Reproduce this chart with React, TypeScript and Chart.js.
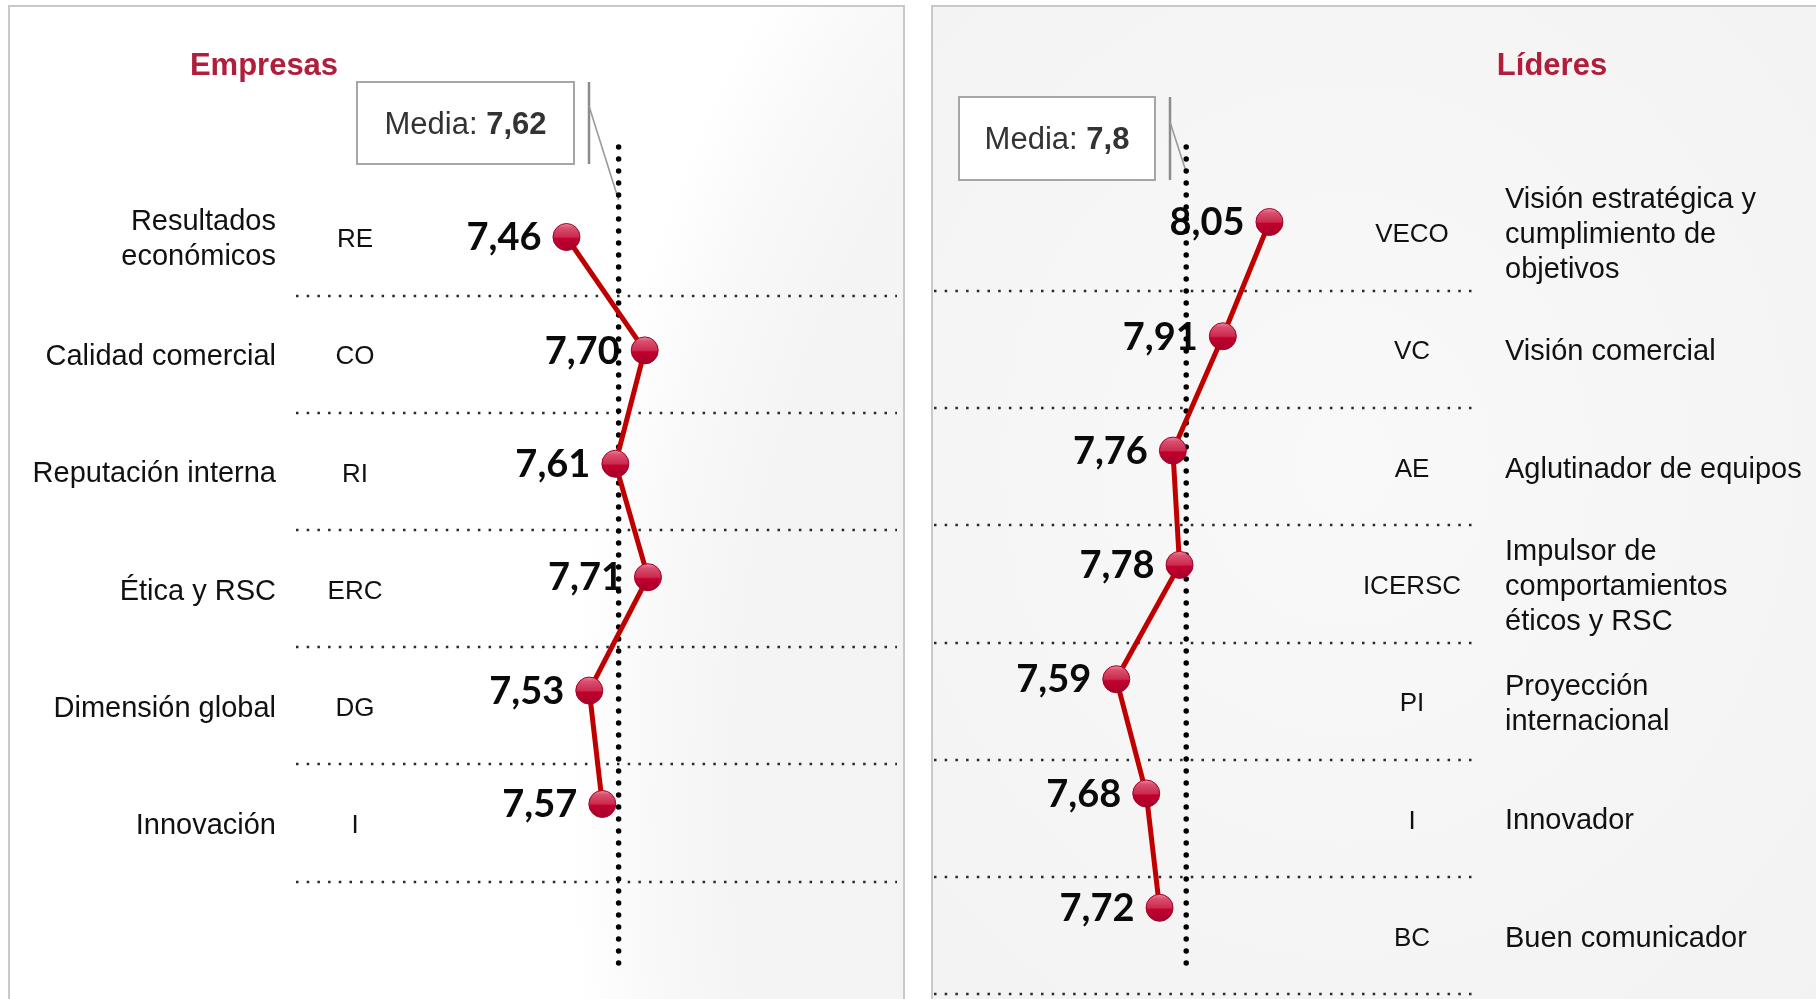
import React, { useEffect, useRef } from 'react';
import { Chart, registerables } from 'chart.js';

Chart.register(...registerables);

// ---------------- DATA ----------------
const empresasCodes = ['RE', 'CO', 'RI', 'ERC', 'DG', 'I'];
const empresasNames = [
  ['Resultados', 'económicos'],
  ['Calidad comercial'],
  ['Reputación interna'],
  ['Ética y RSC'],
  ['Dimensión global'],
  ['Innovación'],
];
const empresasValues = [7.46, 7.7, 7.61, 7.71, 7.53, 7.57];
const empresasMean = 7.62;

const lideresCodes = ['VECO', 'VC', 'AE', 'ICERSC', 'PI', 'I', 'BC'];
const lideresNames = [
  ['Visión estratégica y', 'cumplimiento de', 'objetivos'],
  ['Visión comercial'],
  ['Aglutinador de equipos'],
  ['Impulsor de', 'comportamientos', 'éticos y RSC'],
  ['Proyección', 'internacional'],
  ['Innovador'],
  ['Buen comunicador'],
];
const lideresValues = [8.05, 7.91, 7.76, 7.78, 7.59, 7.68, 7.72];
const lideresMean = 7.8;

// ---------------- LAYOUT ----------------
const W = 1816;
const H = 999;
const SANS = '"Liberation Sans", Arial, sans-serif';
const NUM = 'Lato, "Open Sans", sans-serif';

type Panel = {
  title: string;
  codes: string[];
  names: string[][];
  values: number[];
  mean: number;
  meanText: string;
  left: number;
  width: number;
  titleX: number;
  xMin: number;
  xMax: number;
  yMin: number;
  yMax: number;
  y2Min: number;
  y2Max: number;
  gridX1: number;
  gridX2: number;
  box: { x: number; y: number; w: number; h: number };
  connX: number;
  diagY1: number;
  diagY2: number;
  codeX: number;
  nameX: number;
  nameAlign: CanvasTextAlign;
};

const fmt = (v: number) => v.toFixed(2).replace('.', ',');

const panels: Panel[] = [
  {
    title: 'Empresas',
    codes: empresasCodes,
    names: empresasNames,
    values: empresasValues,
    mean: empresasMean,
    meanText: String(empresasMean).replace('.', ','),
    left: 9,
    width: 895,
    titleX: 264,
    xMin: 5.75,
    xMax: 8.4954,
    yMin: -2.09,
    yMax: 6.72,
    y2Min: -2.022,
    y2Max: 6.502,
    gridX1: 296,
    gridX2: 897,
    box: { x: 357, y: 82, w: 217, h: 82 },
    connX: 589,
    diagY1: 106,
    diagY2: 200,
    codeX: 355,
    nameX: 276,
    nameAlign: 'right',
  },
  {
    title: 'Líderes',
    codes: lideresCodes,
    names: lideresNames,
    values: lideresValues,
    mean: lideresMean,
    meanText: String(lideresMean).replace('.', ','),
    left: 932,
    width: 884,
    titleX: 1552,
    xMin: 7.0366,
    xMax: 9.6913,
    yMin: -1.942,
    yMax: 6.798,
    y2Min: -1.978,
    y2Max: 6.539,
    gridX1: 934,
    gridX2: 1478,
    box: { x: 959, y: 97, w: 196, h: 83 },
    connX: 1170,
    diagY1: 122,
    diagY2: 172,
    codeX: 1412,
    nameX: 1505,
    nameAlign: 'left',
  },
];

function makeDecor(p: Panel) {
  return {
    id: 'decor',
    beforeDatasetsDraw(chart: any) {
      const ctx: CanvasRenderingContext2D = chart.ctx;
      const xs = chart.scales.x;
      const ys = chart.scales.y;
      const ys2 = chart.scales.y2;
      const ox = p.left;
      ctx.save();

      // title
      ctx.fillStyle = '#b01e3c';
      ctx.font = `bold 31px ${SANS}`;
      ctx.textAlign = 'center';
      ctx.textBaseline = 'middle';
      ctx.fillText(p.title, p.titleX - ox, 66);

      // horizontal dotted separators (category boundaries)
      ctx.strokeStyle = '#2a2a2a';
      ctx.lineWidth = 2.5;
      ctx.setLineDash([2.5, 8.2]);
      for (let i = 0; i < p.codes.length; i++) {
        const y = Math.round(ys2.getPixelForValue(i + 0.5));
        ctx.beginPath();
        ctx.moveTo(p.gridX1 - ox, y);
        ctx.lineTo(p.gridX2 - ox, y);
        ctx.stroke();
      }
      ctx.setLineDash([]);

      // category codes and names
      ctx.fillStyle = '#111111';
      for (let i = 0; i < p.codes.length; i++) {
        const yc = ys2.getPixelForValue(i) + 3;
        ctx.font = `26px ${SANS}`;
        ctx.textAlign = 'center';
        ctx.fillText(p.codes[i], p.codeX - ox, yc);
        ctx.font = `29px ${SANS}`;
        ctx.textAlign = p.nameAlign;
        const lines = p.names[i];
        lines.forEach((ln, k) => {
          const y = yc + (k - (lines.length - 1) / 2) * 35;
          ctx.fillText(ln, p.nameX - ox, y);
        });
      }

      // value labels
      ctx.fillStyle = '#0a0a0a';
      ctx.font = `bold 38px ${NUM}`;
      ctx.textAlign = 'right';
      p.values.forEach((v, i) => {
        const px = xs.getPixelForValue(v);
        const py = ys.getPixelForValue(i);
        ctx.fillText(fmt(v), px - 25, py + 1);
      });

      // media box
      const b = p.box;
      ctx.fillStyle = '#ffffff';
      ctx.fillRect(b.x - ox, b.y, b.w, b.h);
      ctx.strokeStyle = '#a6a6a6';
      ctx.lineWidth = 2;
      ctx.strokeRect(b.x - ox, b.y, b.w, b.h);
      const t1 = 'Media: ';
      ctx.font = `31px ${SANS}`;
      const w1 = ctx.measureText(t1).width;
      ctx.font = `bold 31px ${SANS}`;
      const w2 = ctx.measureText(p.meanText).width;
      const sx = b.x - ox + b.w / 2 - (w1 + w2) / 2;
      const sy = b.y + b.h / 2 + 2;
      ctx.fillStyle = '#333333';
      ctx.textAlign = 'left';
      ctx.font = `31px ${SANS}`;
      ctx.fillText(t1, sx, sy);
      ctx.font = `bold 31px ${SANS}`;
      ctx.fillText(p.meanText, sx + w1, sy);

      // mean line
      const mx = xs.getPixelForValue(p.mean);

      // connector
      ctx.strokeStyle = '#8c8c8c';
      ctx.lineWidth = 2.5;
      ctx.beginPath();
      ctx.moveTo(p.connX - ox, b.y);
      ctx.lineTo(p.connX - ox, b.y + b.h);
      ctx.stroke();
      ctx.strokeStyle = '#9a9a9a';
      ctx.lineWidth = 1.6;
      ctx.beginPath();
      ctx.moveTo(p.connX - ox, p.diagY1);
      ctx.lineTo(mx, p.diagY2);
      ctx.stroke();

      ctx.strokeStyle = '#000000';
      ctx.lineWidth = 5.5;
      ctx.lineCap = 'round';
      ctx.setLineDash([0, 12]);
      ctx.beginPath();
      ctx.moveTo(mx, 147);
      ctx.lineTo(mx, 966);
      ctx.stroke();
      ctx.restore();
    },
  };
}

function pointFill(c: any) {
  const chart = c.chart;
  const xs = chart.scales && chart.scales.x;
  const ys = chart.scales && chart.scales.y;
  const raw = c.raw;
  if (!xs || !ys || !raw || c.type !== 'data') return '#c4002f';
  const px = xs.getPixelForValue(raw.x);
  const py = ys.getPixelForValue(raw.y);
  if (!Number.isFinite(px) || !Number.isFinite(py)) return '#c4002f';
  const g = chart.ctx.createLinearGradient(px, py - 13, px, py + 13);
  g.addColorStop(0, '#e8849a');
  g.addColorStop(0.15, '#d8506e');
  g.addColorStop(0.5, '#cc2a4e');
  g.addColorStop(0.56, '#c2002e');
  g.addColorStop(1, '#a8002a');
  return g;
}

function PanelChart({ p }: { p: Panel }) {
  const ref = useRef<HTMLCanvasElement | null>(null);
  useEffect(() => {
    if (!ref.current) return;
    const chart = new Chart(ref.current, {
      type: 'line',
      data: {
        datasets: [
          {
            data: p.values.map((v, i) => ({ x: v, y: i })),
            borderColor: '#c00000',
            borderWidth: 5,
            tension: 0,
            fill: false,
            pointRadius: 13.5,
            pointBackgroundColor: pointFill as any,
            pointBorderColor: '#a0002a',
            pointBorderWidth: 1,
            xAxisID: 'x',
            yAxisID: 'y',
          },
        ],
      },
      options: {
        responsive: false,
        animation: false,
        devicePixelRatio: 1,
        layout: { padding: 0, autoPadding: false },
        plugins: { legend: { display: false }, tooltip: { enabled: false } },
        scales: {
          x: { type: 'linear', display: false, min: p.xMin, max: p.xMax, bounds: 'data' },
          y: { type: 'linear', display: false, reverse: true, min: p.yMin, max: p.yMax, bounds: 'data' },
          y2: { type: 'linear', display: false, reverse: true, min: p.y2Min, max: p.y2Max, bounds: 'data' },
        },
      } as any,
      plugins: [makeDecor(p) as any],
    });
    return () => chart.destroy();
  }, [p]);
  return (
    <canvas
      ref={ref}
      width={p.width}
      height={H}
      style={{ position: 'absolute', left: p.left, top: 0, width: p.width, height: H }}
    />
  );
}

export default function App() {
  return (
    <div
      style={{
        position: 'fixed',
        left: 0,
        top: 0,
        width: W,
        height: H,
        overflow: 'hidden',
        background: '#ffffff',
      }}
    >
      <div
        style={{
          position: 'absolute',
          left: 8,
          top: 5,
          width: 897,
          height: 1020,
          boxSizing: 'border-box',
          border: '2px solid #c9c9c9',
          background:
            'radial-gradient(600px 1100px at 1160px 800px, #f3f3f3 0%, #f4f4f4 72%, #f9f9f9 88%, #ffffff 100%)',
        }}
      />
      <div
        style={{
          position: 'absolute',
          left: 931,
          top: 5,
          width: 920,
          height: 1020,
          boxSizing: 'border-box',
          border: '2px solid #c9c9c9',
          background: 'radial-gradient(ellipse at 45% 45%, #f9f9f9 0%, #f5f5f5 55%, #f2f2f2 100%)',
        }}
      />
      {panels.map((p) => (
        <PanelChart key={p.title} p={p} />
      ))}
    </div>
  );
}
